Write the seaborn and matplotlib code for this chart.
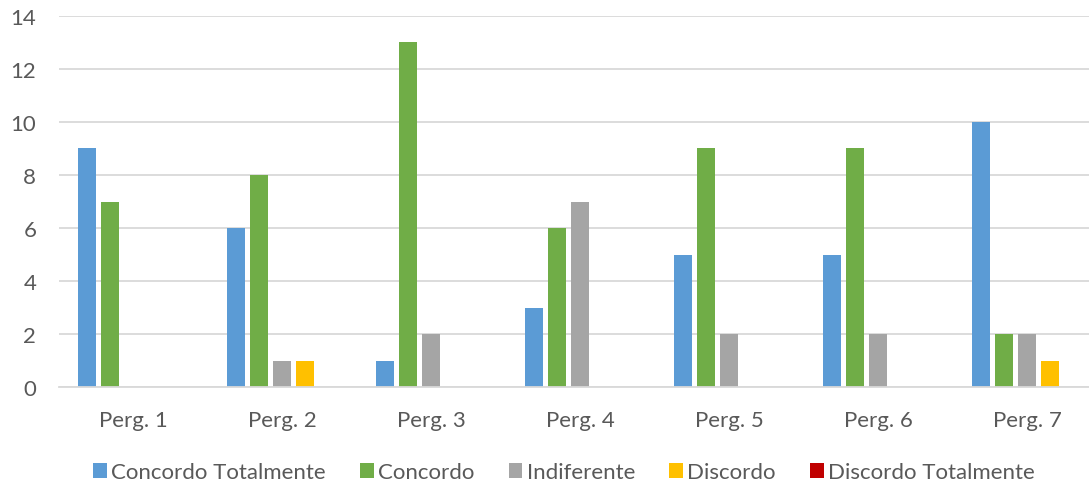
import pandas as pd
import seaborn as sns
import matplotlib.pyplot as plt

questions = ['Perg. 1', 'Perg. 2', 'Perg. 3', 'Perg. 4', 'Perg. 5', 'Perg. 6', 'Perg. 7']
answers = ['Concordo Totalmente', 'Concordo', 'Indiferente', 'Discordo', 'Discordo Totalmente']

concordo_totalmente = [9, 6, 1, 3, 5, 5, 10]
concordo = [7, 8, 13, 6, 9, 9, 2]
indiferente = [0, 1, 2, 7, 2, 2, 2]
discordo = [0, 1, 0, 0, 0, 0, 1]
discordo_totalmente = [0, 0, 0, 0, 0, 0, 0]

colors = ['#5B9BD5', '#70AD47', '#A5A5A5', '#FFC000', '#C00000']
text_color = '#595959'
grid_color = '#D9D9D9'


def build_frame() -> pd.DataFrame:
    series = [concordo_totalmente, concordo, indiferente, discordo, discordo_totalmente]
    rows = []
    for answer, values in zip(answers, series):
        for q, v in zip(questions, values):
            rows.append({'Pergunta': q, 'Resposta': answer, 'Valor': v})
    return pd.DataFrame(rows)


def main():
    sns.set_style('white')
    plt.rcParams['font.family'] = ['Lato', 'DejaVu Sans']

    df = build_frame()

    fig = plt.figure(figsize=(10.89, 4.85), dpi=100)
    ax = fig.add_axes([58.5 / 1089, 0.199, 1043 / 1089, 0.7666])

    sns.barplot(data=df, x='Pergunta', y='Valor', hue='Resposta', hue_order=answers,
                palette=colors, width=0.77, gap=0.2, saturation=1, linewidth=0,
                ax=ax, legend=True)

    ax.set_ylim(0, 14)
    ax.set_yticks(range(0, 15, 2))
    ax.set_xlim(-0.5, len(questions) - 0.5)
    ax.yaxis.grid(True, color=grid_color, linewidth=1.3)
    ax.set_axisbelow(True)
    for side in ['top', 'right', 'left']:
        ax.spines[side].set_visible(False)
    ax.spines['bottom'].set_color(grid_color)
    ax.spines['bottom'].set_linewidth(1.3)
    ax.set_xlabel('')
    ax.set_ylabel('')
    ax.tick_params(axis='both', length=0, labelsize=16, labelcolor=text_color)
    ax.tick_params(axis='y', pad=16)
    ax.tick_params(axis='x', pad=16)

    handles, labels = ax.get_legend_handles_labels()
    ax.get_legend().remove()
    fig.legend(handles, labels, loc='center', bbox_to_anchor=(0.518, 0.024), ncol=5,
               frameon=False, fontsize=16, labelcolor=text_color,
               handlelength=0.6, handleheight=0.6, handletextpad=0.2, columnspacing=1.55)

    fig.savefig('out.png', dpi=100)


if __name__ == "__main__":
    main()
